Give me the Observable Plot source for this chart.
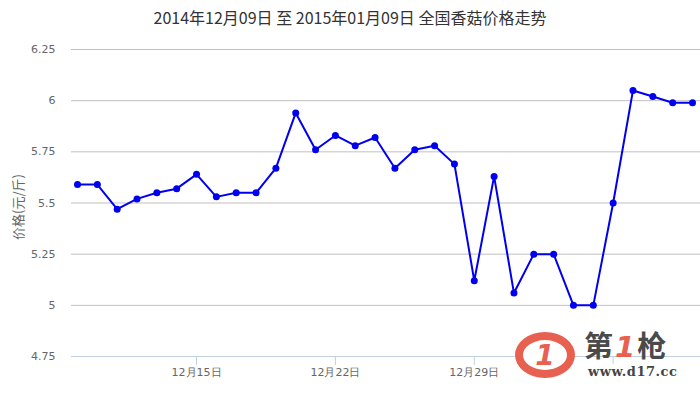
<!DOCTYPE html>
<html>
<head>
<meta charset="utf-8">
<script src="https://cdn.jsdelivr.net/npm/d3@7"></script>
<script src="https://cdn.jsdelivr.net/npm/@observablehq/plot@0.6"></script>
<style>
  html, body { margin: 0; padding: 0; background: #fff; }
  #wrap { position: relative; width: 700px; height: 401px; overflow: hidden; }
  #title { height: 34px; line-height: 34px; text-align: center; font-family: "Noto Sans CJK SC", "Noto Sans", sans-serif; font-size: 16px; color: #333; }
  #ylabel { position: absolute; left: 17px; top: 207px; transform: translate(-50%, -50%) rotate(-90deg); font-family: "Noto Sans CJK SC", sans-serif; font-size: 13px; color: #666; white-space: nowrap; }
  #wm-ring { position: absolute; left: 515px; top: 332px; width: 44px; height: 30px; border-radius: 50%; border: 8px solid #e8604f; display: flex; align-items: center; justify-content: center; font: italic bold 28px "DejaVu Sans", sans-serif; color: #e8604f; background: #fff; }
  #wm-text { position: absolute; left: 584px; top: 325px; font: bold 29px "Noto Sans CJK SC", sans-serif; color: #4a4a4a; line-height: 38px; letter-spacing: 2px; }
  #wm-text span { color: #e8604f; font-style: italic; font-family: "DejaVu Sans", sans-serif; }
  #wm-url { position: absolute; left: 587px; top: 364px; font: bold 13px "DejaVu Serif", "Liberation Serif", serif; color: #444; background: #fff; padding: 0 1px; line-height: 15px; letter-spacing: 0.5px; }
</style>
</head>
<body>
<div id="wrap">
  <div id="title">2014年12月09日 至 2015年01月09日 全国香菇价格走势</div>
  <div id="chart"></div>
  <div id="ylabel">价格(元/斤)</div>
  <div id="wm-ring">1</div>
  <div id="wm-text">第<span>1</span>枪</div>
  <div id="wm-url">www.d17.cc</div>
</div>
<script>
const dates = [
  "2014-12-09","2014-12-10","2014-12-11","2014-12-12","2014-12-13","2014-12-14","2014-12-15","2014-12-16",
  "2014-12-17","2014-12-18","2014-12-19","2014-12-20","2014-12-21","2014-12-22","2014-12-23","2014-12-24",
  "2014-12-25","2014-12-26","2014-12-27","2014-12-28","2014-12-29","2014-12-30","2014-12-31","2015-01-01",
  "2015-01-02","2015-01-03","2015-01-04","2015-01-05","2015-01-06","2015-01-07","2015-01-08","2015-01-09"
];
const prices = [
  5.59, 5.59, 5.47, 5.52, 5.55, 5.57, 5.64, 5.53,
  5.55, 5.55, 5.67, 5.94, 5.76, 5.83, 5.78, 5.82,
  5.67, 5.76, 5.78, 5.69, 5.12, 5.63, 5.06, 5.25,
  5.25, 5.00, 5.00, 5.50, 6.05, 6.02, 5.99, 5.99
];
const yTicks = [4.75, 5, 5.25, 5.5, 5.75, 6, 6.25];
// the 01月05日 label is hidden under the watermark in the reference, so only its tick is drawn
const xTicks = ["2014-12-15", "2014-12-22", "2014-12-29", "2015-01-05"];
const xTickLabels = ["12月15日", "12月22日", "12月29日", ""];

const data = dates.map((d, i) => ({date: new Date(d), price: prices[i]}));
const labelMap = new Map(xTicks.map((d, i) => [+new Date(d), xTickLabels[i]]));
const lineColor = "#0000ee";

const chart = Plot.plot({
  width: 700,
  height: 367,
  marginTop: 15,
  marginBottom: 45,
  marginLeft: 71,
  marginRight: 0,
  style: {fontFamily: "'DejaVu Sans', Verdana, sans-serif", fontSize: "11px", color: "#666", background: "white"},
  x: {type: "utc", domain: [new Date(dates[0]), new Date(dates[dates.length - 1])], insetLeft: 6, insetRight: 8},
  y: {domain: [4.75, 6.25]},
  marks: [
    Plot.ruleY(yTicks.slice(1), {stroke: "#C0C0C0", strokeWidth: 1}),
    Plot.ruleY([yTicks[0]], {stroke: "#C0D0E0", strokeWidth: 1}),
    Plot.axisY({ticks: yTicks, tickSize: 0, tickPadding: 16, tickFormat: d => String(d), label: null, fill: "#666"}),
    Plot.axisX({ticks: xTicks.map(d => new Date(d)), tickSize: 9, tickPadding: 3, stroke: "#C0D0E0", fill: "#666",
                tickFormat: d => labelMap.get(+d), label: null}),
    Plot.line(data, {x: "date", y: "price", stroke: lineColor, strokeWidth: 2}),
    Plot.dot(data, {x: "date", y: "price", r: 3.5, fill: lineColor})
  ]
});
document.getElementById("chart").appendChild(chart);
</script>
</body>
</html>
